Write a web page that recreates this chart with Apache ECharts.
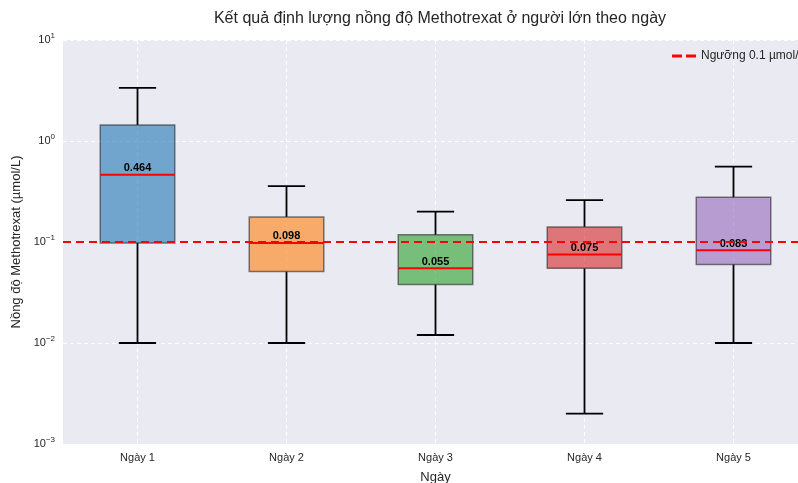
<!DOCTYPE html>
<html>
<head>
<meta charset="utf-8">
<script src="https://cdn.jsdelivr.net/npm/echarts@6/dist/echarts.min.js"></script>
<style>
  html, body { margin: 0; padding: 0; background: #ffffff; }
  #chart { width: 798px; height: 483px; }
</style>
</head>
<body>
<div id="chart"></div>
<script>
// so lieu doc tu hinh
const categories = ['Ngày 1', 'Ngày 2', 'Ngày 3', 'Ngày 4', 'Ngày 5'];
const lowWhisker = [0.01, 0.01, 0.012, 0.002, 0.01];
const q1 = [0.098, 0.051, 0.038, 0.055, 0.060];
const medians = [0.464, 0.098, 0.055, 0.075, 0.083];
const q3 = [1.44, 0.177, 0.118, 0.141, 0.277];
const highWhisker = [3.35, 0.358, 0.2, 0.26, 0.557];
const threshold = 0.1;
const boxColors = ['#1f77b4', '#ff7f0e', '#2ca02c', '#d62728', '#9467bd'];

const fontFamily = 'Liberation Sans, Arial, sans-serif';

const boxData = categories.map((c, i) => [i, lowWhisker[i], q1[i], medians[i], q3[i], highWhisker[i]]);

function hexToRgba(hex, a) {
  const n = parseInt(hex.slice(1), 16);
  return 'rgba(' + (n >> 16) + ',' + ((n >> 8) & 255) + ',' + (n & 255) + ',' + a + ')';
}

function supLabel(v) {
  const e = Math.round(Math.log10(v));
  return '{b|10}{s|' + (e < 0 ? '\u2212' + (-e) : e) + '}';
}

const chart = echarts.init(document.getElementById('chart'));

const option = {
  backgroundColor: '#ffffff',
  textStyle: { fontFamily: fontFamily },
  title: {
    text: 'Kết quả định lượng nồng độ Methotrexat ở người lớn theo ngày',
    left: 435,
    textAlign: 'center',
    top: 6,
    textStyle: { fontSize: 16, fontWeight: 'normal', color: '#262626', fontFamily: fontFamily }
  },
  legend: {
    left: 667,
    top: 45,
    itemWidth: 24,
    itemHeight: 3,
    itemGap: 8,
    icon: 'path://M0,0h10v3h-10z M14,0h10v3h-10z',
    textStyle: { fontSize: 12, color: '#262626', fontFamily: fontFamily },
    data: ['Ngưỡng 0.1 µmol/L']
  },
  grid: {
    left: 63,
    right: -10,
    top: 40,
    bottom: 39,
    outerBoundsMode: 'none',
    containLabel: false,
    show: true,
    backgroundColor: '#EAEAF2',
    borderWidth: 0
  },
  xAxis: {
    type: 'category',
    data: categories,
    name: 'Ngày',
    nameLocation: 'middle',
    nameGap: 27,
    nameTextStyle: { fontSize: 13, color: '#262626' },
    axisLine: { show: false },
    axisTick: { show: false },
    axisLabel: { fontSize: 11, color: '#262626', margin: 8 },
    splitLine: {
      show: true,
      alignWithLabel: true,
      lineStyle: { color: '#ffffff', type: [4, 3], width: 1 }
    }
  },
  yAxis: {
    type: 'log',
    logBase: 10,
    min: 0.001,
    max: 10,
    name: 'Nồng độ Methotrexat (µmol/L)',
    nameLocation: 'middle',
    nameGap: 38,
    nameTextStyle: { fontSize: 13, color: '#262626' },
    axisLine: { show: false },
    axisTick: { show: false },
    minorTick: { show: false },
    axisLabel: {
      margin: 8,
      formatter: supLabel,
      rich: {
        b: { fontSize: 11, color: '#262626' },
        s: { fontSize: 8, color: '#262626', padding: [0, 0, 8, 0] }
      }
    },
    splitLine: {
      show: true,
      lineStyle: { color: '#ffffff', type: [4, 3], width: 1 }
    }
  },
  series: [
    {
      name: 'boxes',
      type: 'custom',
      z: 2,
      data: boxData,
      encode: { x: 0, y: [1, 2, 3, 4, 5] },
      renderItem: function (params, api) {
        const idx = api.value(0);
        const band = api.size([1, 1])[0];
        const halfBox = band * 0.25;
        const halfCap = band * 0.125;
        const pLow = api.coord([idx, api.value(1)]);
        const pQ1 = api.coord([idx, api.value(2)]);
        const pMed = api.coord([idx, api.value(3)]);
        const pQ3 = api.coord([idx, api.value(4)]);
        const pHigh = api.coord([idx, api.value(5)]);
        const cx = pMed[0];
        const color = boxColors[params.dataIndex];
        const black = { stroke: '#000000', lineWidth: 1.8 };
        return {
          type: 'group',
          children: [
            { type: 'line', shape: { x1: cx, y1: pQ3[1], x2: cx, y2: pHigh[1] }, style: black },
            { type: 'line', shape: { x1: cx, y1: pQ1[1], x2: cx, y2: pLow[1] }, style: black },
            { type: 'line', shape: { x1: cx - halfCap, y1: pHigh[1], x2: cx + halfCap, y2: pHigh[1] }, style: black },
            { type: 'line', shape: { x1: cx - halfCap, y1: pLow[1], x2: cx + halfCap, y2: pLow[1] }, style: black },
            {
              type: 'rect',
              shape: { x: cx - halfBox, y: pQ3[1], width: halfBox * 2, height: pQ1[1] - pQ3[1] },
              style: { fill: hexToRgba(color, 0.6), stroke: 'rgba(40,40,40,0.6)', lineWidth: 1.5 }
            },
            {
              type: 'line',
              shape: { x1: cx - halfBox, y1: pMed[1], x2: cx + halfBox, y2: pMed[1] },
              style: { stroke: '#ff0000', lineWidth: 2 }
            },
            {
              type: 'text',
              z2: 10,
              style: {
                x: cx,
                y: pMed[1] - 1,
                text: api.value(3).toFixed(3),
                textAlign: 'center',
                textVerticalAlign: 'bottom',
                fontSize: 11,
                fontWeight: 'bold',
                fontFamily: fontFamily,
                fill: '#000000'
              }
            }
          ]
        };
      }
    },
    {
      name: 'Ngưỡng 0.1 µmol/L',
      type: 'line',
      z: 3,
      data: [],
      itemStyle: { color: '#ff0000' },
      lineStyle: { color: '#ff0000', type: [8, 5], width: 2 },
      markLine: {
        silent: true,
        symbol: 'none',
        label: { show: false },
        lineStyle: { color: '#ff0000', type: [8, 5], width: 2 },
        data: [{ yAxis: threshold }]
      }
    }
  ]
};

chart.setOption(option);
</script>
</body>
</html>
